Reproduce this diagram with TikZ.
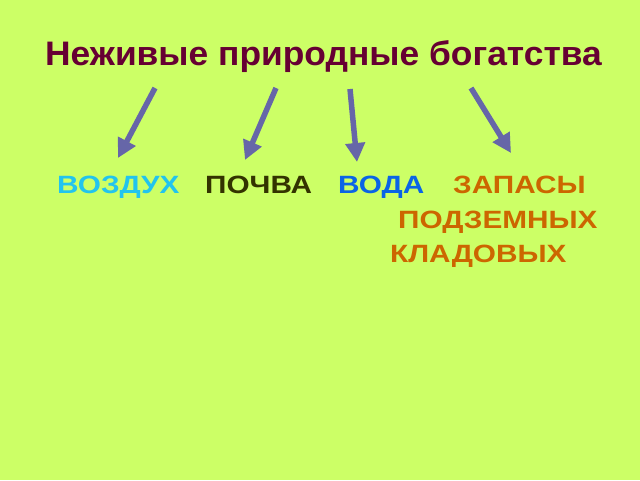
\documentclass[tikz,border=0pt]{standalone}
\usepackage{fontspec}
\setmainfont{Liberation Sans}
\newfontfamily\titlefont[FakeStretch=1.04]{Liberation Sans}
\newfontfamily\labelfont[FakeStretch=1.19]{Liberation Sans}
\usepackage{xcolor}
\usetikzlibrary{arrows.meta}

\definecolor{bgcol}{HTML}{CCFF66}
\definecolor{titlecol}{HTML}{660033}
\definecolor{arrowcol}{HTML}{6666A8}
\definecolor{aircol}{HTML}{22C4EE}
\definecolor{soilcol}{HTML}{333300}
\definecolor{watercol}{HTML}{0A64E6}
\definecolor{stockcol}{HTML}{CC6600}

\tikzset{
	label/.style={anchor=base west, inner sep=0pt, font=\labelfont\fontsize{25}{28}\selectfont\bfseries},
	pointer/.style={arrowcol, line width=5.5pt, -{Triangle[width=19pt,length=19pt]}}
}

\begin{document}
\begin{tikzpicture}[x=1pt, y=-1pt]
	\fill[bgcol] (0,0) rectangle (640,480);
	\useasboundingbox (0,0) rectangle (640,480);

	\node[anchor=base west, inner sep=0pt, titlecol, font=\titlefont\fontsize{34}{38}\selectfont\bfseries] (title) at (45,65) {Неживые природные богатства};

	\node[label, aircol] (air) at (57,193) {ВОЗДУХ};
	\node[label, soilcol] (soil) at (205,193) {ПОЧВА};
	\node[label, watercol] (water) at (338,193) {ВОДА};
	\node[label, stockcol] (stock1) at (453,193) {ЗАПАСЫ};
	\node[label, stockcol] (stock2) at (398,228) {ПОДЗЕМНЫХ};
	\node[label, stockcol] (stock3) at (390,262) {КЛАДОВЫХ};

	% arrows from the title down to the labels
	\coordinate (a1) at (155,88);
	\coordinate (b1) at (118,158);
	\coordinate (a2) at (276,88);
	\coordinate (b2) at (245,160);
	\coordinate (a3) at (350,89);
	\coordinate (b3) at (357,162);
	\coordinate (a4) at (471,88);
	\coordinate (b4) at (511,153);

	\draw[pointer] (a1) -- (b1);
	\draw[pointer] (a2) -- (b2);
	\draw[pointer] (a3) -- (b3);
	\draw[pointer] (a4) -- (b4);
\end{tikzpicture}
\end{document}
